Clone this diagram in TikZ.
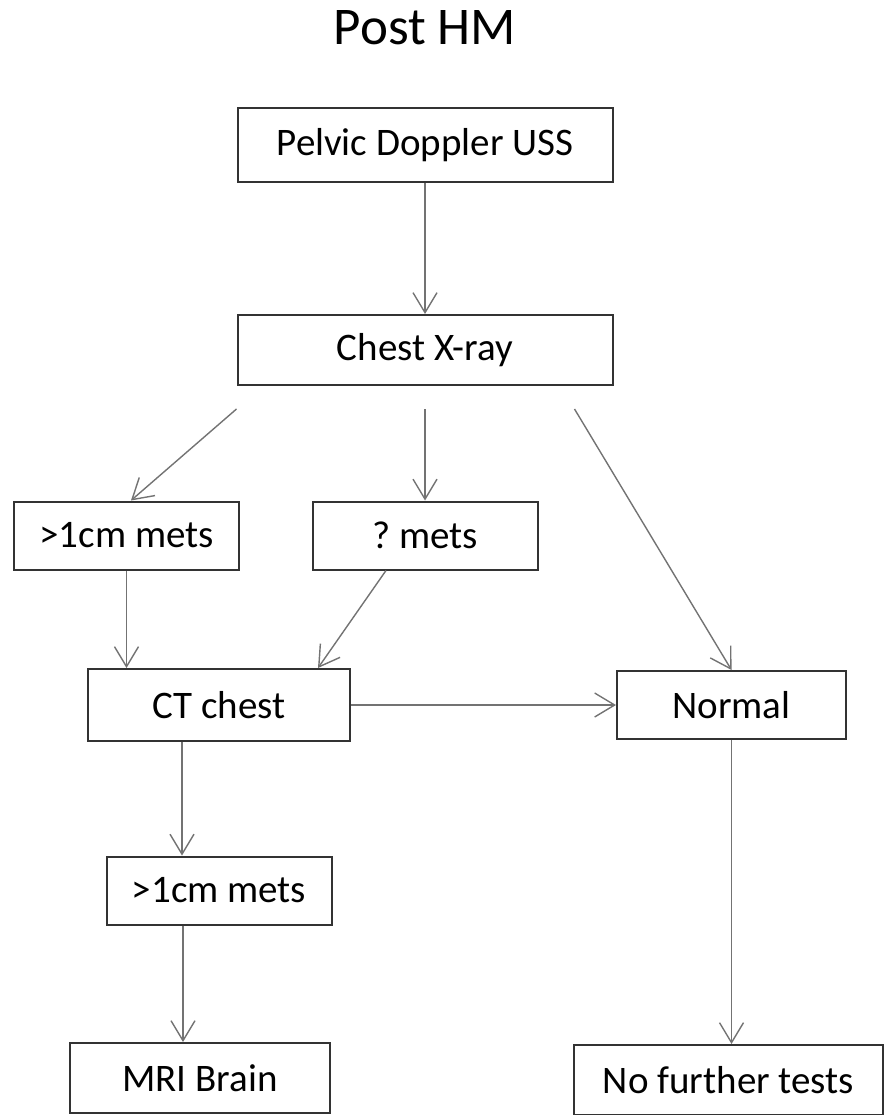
\documentclass[tikz,border=0pt]{standalone}
\usepackage{fontspec}
\setmainfont{Carlito}
\usetikzlibrary{arrows.meta,positioning}
\tikzset
{
    process/.style={rectangle, draw=black!80, line width=2pt, minimum width=225pt, minimum height=68pt, align=center, font=\fontsize{39}{44}\selectfont\frenchspacing},
    arrow/.style={line width=1.4pt, draw=black!55, -{Straight Barb[length=20pt,width=24pt,line width=1.4pt]}}
}

\begin{document}
\begin{tikzpicture}[node distance=100pt]
	\useasboundingbox (0,0) rectangle (885pt,-1115pt);
	\node (title) at (425pt,-28pt) {\fontsize{53}{58}\selectfont Post HM};
	\node (pelvic) [process, below of=title, yshift=-17pt, minimum width=375pt, minimum height=74pt] {Pelvic Doppler USS};
	\node (chest) [process, below of=pelvic, yshift=-105pt, minimum width=375pt, minimum height=70pt] {Chest X-ray};
	\node (qmets) [process, below of=chest, yshift=-85.5pt] {? mets};
	\node (mets1) [process, left of=qmets, xshift=-198.5pt] {>1cm mets};
	\node (ct) [process, below of=mets1, yshift=-69.5pt, xshift=92.5pt, minimum width=262pt, minimum height=72pt] {CT chest};
	\node (normal) [process, right of=ct, xshift=412.5pt, minimum width=229pt] {Normal};
	\node (mets2) [process, below of=ct, yshift=-85.5pt] {>1cm mets};
	\node (mri) [process, below of=mets2, yshift=-87.5pt, xshift=-19pt, minimum width=260pt, minimum height=70pt] {MRI Brain};
	\node (nft) [process, below of=normal, yshift=-275pt, xshift=-3pt, minimum width=309pt, minimum height=70pt] {No further tests};

	\draw [arrow] (pelvic) -- (chest);
	\draw [arrow] ([yshift=-23pt]chest.south west) -- ([xshift=4.5pt]mets1.north);
	\draw [arrow] ([yshift=-23pt]chest.south) -- (qmets.north);
	\draw [arrow] ([xshift=-39pt,yshift=-23pt]chest.south east) -- (normal.north);
	\draw [arrow] (mets1.south) -- (mets1.south |- ct.north);
	\draw [arrow] ([xshift=-39pt]qmets.south) -- ([xshift=-33pt]ct.north east);
	\draw [arrow] (ct.east) -- (ct.east -| normal.west);
	\draw [arrow] ([xshift=-37pt]ct.south) -- ([xshift=-37pt]mets2.north);
	\draw [arrow] ([xshift=-36pt]mets2.south) -- ([xshift=-36pt]mets2.south |- mri.north);
	\draw [arrow] (normal.south) -- (normal.south |- nft.north);

\end{tikzpicture}
\end{document}
